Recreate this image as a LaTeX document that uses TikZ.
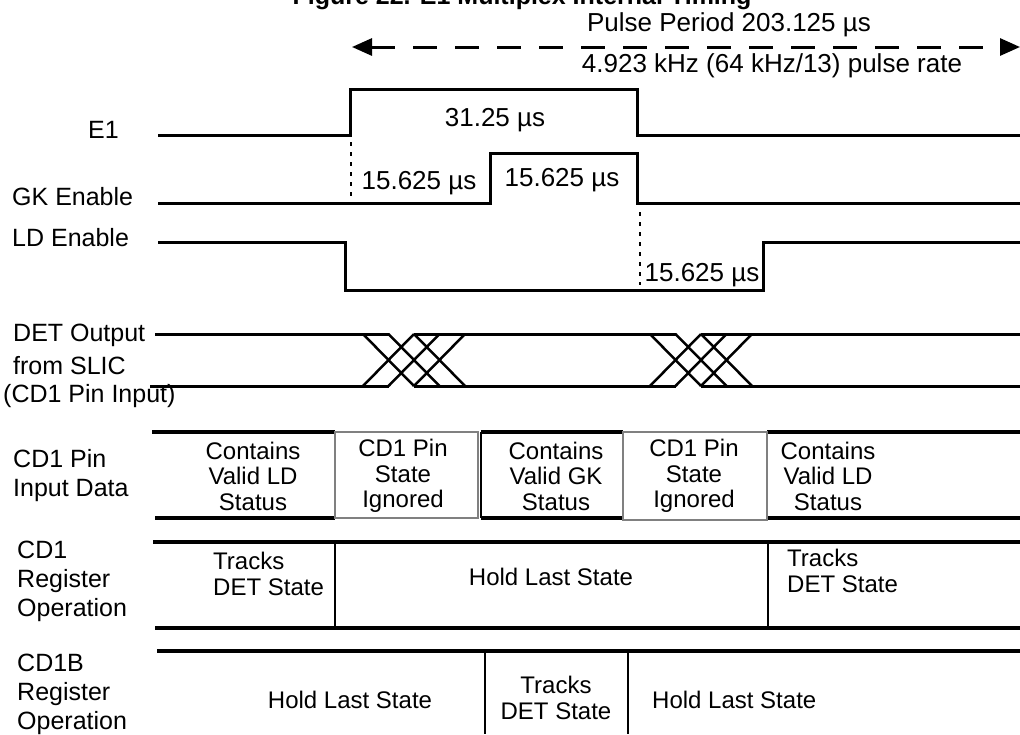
\documentclass[tikz,border=0pt]{standalone}
\usepackage{fontspec}
\setmainfont{Liberation Sans}
\usetikzlibrary{arrows.meta}

\begin{document}
\begin{tikzpicture}[x=1pt, y=-1pt,
  lbl/.style={anchor=west, align=left, inner sep=0pt, font=\fontsize{25}{29}\selectfont},
  note/.style={inner sep=0pt, font=\fontsize{26}{30}\selectfont},
  cell/.style={inner sep=0pt, align=center, font=\fontsize{24}{25.5}\selectfont},
  sig/.style={line width=3pt, line join=miter},
  xing/.style={line width=2.5pt},
  rowline/.style={line width=3.5pt},
  divider/.style={line width=2.5pt},
  ign/.style={draw=black!50, line width=2.5pt},
  guide/.style={line width=2.5pt, dash pattern=on 4pt off 6pt},
  >={Triangle[length=20pt, width=17pt]}]
\useasboundingbox (0,0) rectangle (1020,734);
\node[anchor=base, inner sep=0pt, font=\fontsize{25}{30}\selectfont\bfseries] (title) at (522,4) {Figure 22. E1 Multiplex Internal Timing};
\node[note, anchor=base] (period) at (729,31) {Pulse Period 203.125 µs};
\node[note] (rate) at (772,66) {4.923 kHz (64 kHz/13) pulse rate};
\coordinate (pl) at (352,47);
\coordinate (pr) at (1020,47);
\draw[line width=3pt, dash pattern=on 24pt off 18pt, <->] (pl) -- (pr);
% enables
\node[lbl] (e1) at (88,130) {E1};
\node[lbl] (gk) at (12,197) {GK Enable};
\node[lbl] (ld) at (12,238) {LD Enable};
\draw[sig] (158,135) -- (350,135) -- (350,89) -- (637,89) -- (637,135) -- (1020,135);
\draw[sig] (158,203) -- (490,203) -- (490,153) -- (637,153) -- (637,203) -- (1020,203);
\draw[sig] (158,242) -- (345,242) -- (345,290) -- (763,290) -- (763,242) -- (1020,242);
\draw[guide] (351,142) -- (351,196);
\draw[guide] (640,212) -- (640,285);
\node[note] (w1) at (495,120) {31.25 µs};
\node[note] (w2) at (419,183) {15.625 µs};
\node[note] (w3) at (562,180) {15.625 µs};
\node[note] (w4) at (702,275) {15.625 µs};
% DET output
\node[lbl] (det1) at (13,335) {DET Output};
\node[lbl] (det2) at (13,366) {from SLIC};
\node[lbl] (det3) at (3,396) {(CD1 Pin Input)};
\draw[sig] (155,334) -- (388.5,334) (414,334) -- (675.5,334) (701,334) -- (1020,334);
\draw[sig] (150,386) -- (388.5,386) (414,386) -- (675.5,386) (701,386) -- (1020,386);
\foreach \xa in {363,650}
  \foreach \k in {0,25.5,51} {
    \draw[xing] ({\xa+\k},334) -- ({\xa+\k+51},386);
    \draw[xing] ({\xa+\k},386) -- ({\xa+\k+51},334);
  }
% CD1 pin input data
\node[lbl] (pin) at (13,476) {CD1 Pin\\Input Data};
\draw[rowline] (152,432) -- (335,432) (481,432) -- (623,432) (767,432) -- (1020,432);
\draw[rowline] (155,518) -- (335,518) (481,518) -- (623,518) (767,518) -- (1020,518);
\draw[divider] (481,432) -- (481,518);
\draw[ign] (335,432) rectangle (478,518);
\draw[ign] (623,432) rectangle (767,520);
\node[cell] (ld1) at (253,476) {Contains\\Valid LD\\Status};
\node[cell] (ign1) at (403,476) {CD1 Pin\\State\\Ignored};
\node[cell] (gk1) at (556,476) {Contains\\Valid GK\\Status};
\node[cell] (ign2) at (694,476) {CD1 Pin\\State\\Ignored};
\node[cell] (ld2) at (828,476) {Contains\\Valid LD\\Status};
% CD1 register
\node[lbl] (reg) at (17,581) {CD1\\Register\\Operation};
\draw[rowline] (153,542) -- (1020,542);
\draw[rowline] (155,628) -- (1020,628);
\draw[divider] (335,542) -- (335,628) (768,542) -- (768,628);
\node[cell, anchor=west, align=left] (trk1) at (213,574) {Tracks\\DET State};
\node[cell] (hold1) at (551,577) {Hold Last State};
\node[cell, anchor=west, align=left] (trk2) at (787,571) {Tracks\\DET State};
% CD1B register
\node[lbl] (regb) at (17,694) {CD1B\\Register\\Operation};
\draw[rowline] (157,651) -- (1020,651);
\draw[divider] (485,651) -- (485,734) (628,651) -- (628,734);
\node[cell] (hold2) at (350,700) {Hold Last State};
\node[cell] (trk3) at (556,698) {Tracks\\DET State};
\node[cell, anchor=west] (hold3) at (652,700) {Hold Last State};
\end{tikzpicture}
\end{document}
